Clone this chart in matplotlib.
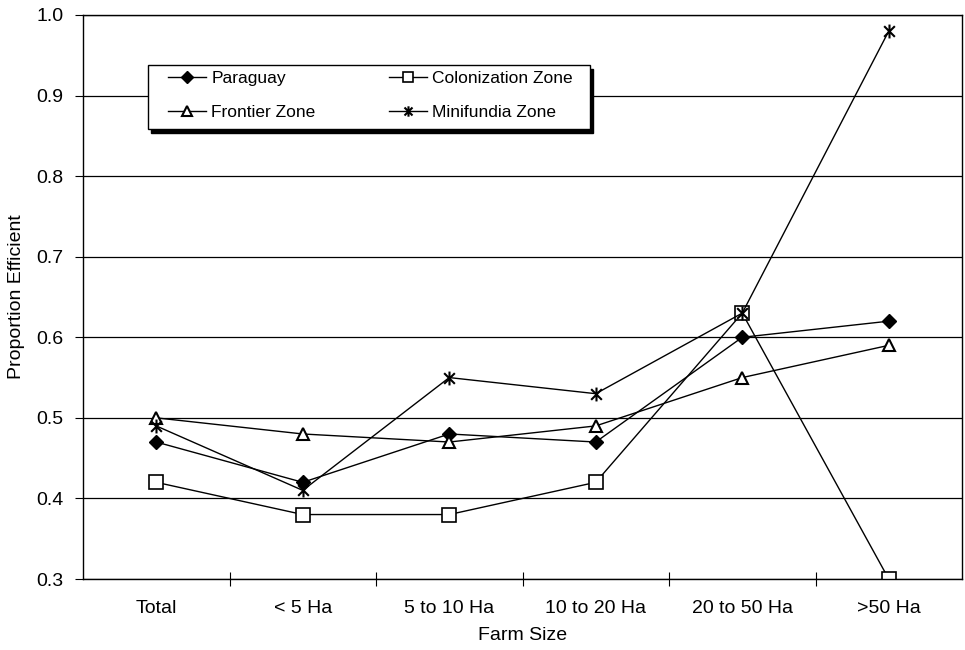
import matplotlib.pyplot as plt
from matplotlib.path import Path
from matplotlib.patches import Rectangle
from matplotlib.ticker import FixedLocator, NullFormatter

plt.rcParams['font.family'] = ['Liberation Sans', 'DejaVu Sans']

# data
farm_sizes = ['Total', '< 5 Ha', '5 to 10 Ha', '10 to 20 Ha', '20 to 50 Ha', '>50 Ha']
paraguay = [0.47, 0.42, 0.48, 0.47, 0.60, 0.62]
colonization = [0.42, 0.38, 0.38, 0.42, 0.63, 0.30]
frontier = [0.50, 0.48, 0.47, 0.49, 0.55, 0.59]
minifundia = [0.49, 0.41, 0.55, 0.53, 0.63, 0.98]

# excel style star: an x with a vertical bar
star = Path([(-1, -1), (1, 1), (-1, 1), (1, -1), (0, -1.3), (0, 1.3)],
            [Path.MOVETO, Path.LINETO, Path.MOVETO, Path.LINETO, Path.MOVETO, Path.LINETO])

W, H = 965, 650
fig = plt.figure(figsize=(W / 100, H / 100), dpi=100)
ax = fig.add_axes([83 / W, 1 - 579 / H, (962 - 83) / W, (579 - 15) / H])

x = list(range(len(farm_sizes)))
l1, = ax.plot(x, paraguay, color='black', lw=1, marker='D', ms=7.5, mfc='black', label='Paraguay')
l2, = ax.plot(x, colonization, color='black', lw=1, marker='s', ms=10, mfc='white', mew=1.2,
              label='Colonization Zone')
l3, = ax.plot(x, frontier, color='black', lw=1, marker='^', ms=9, mfc='white', mew=1.5,
              label='Frontier Zone')
l4, = ax.plot(x, minifundia, color='black', lw=1, marker=star, ms=10, mew=1.5,
              label='Minifundia Zone')

ax.set_xlim(-0.5, len(farm_sizes) - 0.5)
ax.set_ylim(0.3, 1.0)
ax.set_yticks([0.3, 0.4, 0.5, 0.6, 0.7, 0.8, 0.9, 1.0])
ax.set_yticklabels(['0.3', '0.4', '0.5', '0.6', '0.7', '0.8', '0.9', '1.0'])
ax.yaxis.grid(True, color='black', lw=0.9)
ax.set_axisbelow(True)

ax.set_xticks(x)
ax.set_xticklabels(farm_sizes)
ax.tick_params(axis='x', which='major', length=0, pad=15, labelsize=14)
ax.xaxis.set_minor_locator(FixedLocator([i + 0.5 for i in x[:-1]]))
ax.xaxis.set_minor_formatter(NullFormatter())
ax.tick_params(axis='x', which='minor', direction='inout', length=10, width=0.8)
ax.tick_params(axis='y', direction='out', length=6, labelsize=14, pad=8)

for s in ax.spines.values():
    s.set_color('black')
    s.set_linewidth(1)

ax.set_xlabel('Farm Size', fontsize=14, labelpad=7)
ax.set_ylabel('Proportion Efficient', fontsize=14, labelpad=8)

# legend box with excel like shadow
bx0, by0, bx1, by1 = 148, 65, 590, 129
fig.patches.append(Rectangle(((bx0 + 3) / W, 1 - (by1 + 4) / H), (bx1 - bx0) / W, (by1 - by0) / H,
                             transform=fig.transFigure, facecolor='black', edgecolor='black',
                             zorder=5))
fig.patches.append(Rectangle((bx0 / W, 1 - by1 / H), (bx1 - bx0) / W, (by1 - by0) / H,
                             transform=fig.transFigure, facecolor='white', edgecolor='black',
                             lw=1, zorder=6))

leg = fig.legend([l1, l3, l2, l4], ['Paraguay', 'Frontier Zone', 'Colonization Zone', 'Minifundia Zone'],
                 loc='upper left', bbox_to_anchor=(168 / W, 1 - 71 / H), ncol=2, fontsize=12.5,
                 frameon=False, borderpad=0, borderaxespad=0, columnspacing=4.2,
                 handlelength=2.2, handletextpad=0.3, labelspacing=1.1, markerscale=0.75)
leg.set_zorder(7)

fig.savefig('out.png', dpi=100)
